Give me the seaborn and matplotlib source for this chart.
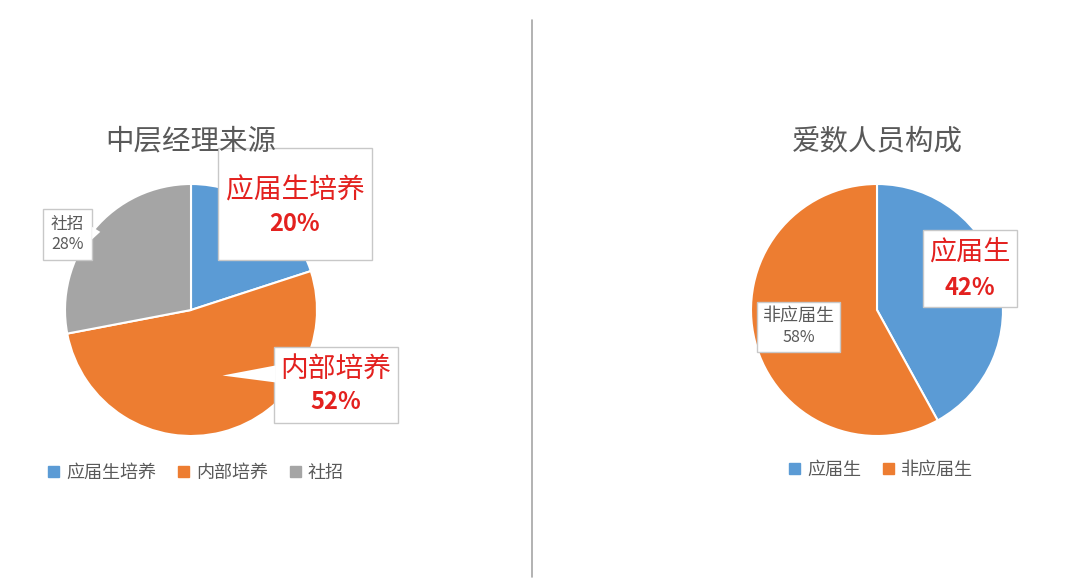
import matplotlib.pyplot as plt
import numpy as np
import seaborn as sns
from matplotlib.patches import Rectangle, Polygon, Patch

# data
left_title = "中层经理来源"
left_labels = ["应届生培养", "内部培养", "社招"]
left_values = [20, 52, 28]

right_title = "爱数人员构成"
right_labels = ["应届生", "非应届生"]
right_values = [42, 58]

blue, orange, gray = "#5B9BD5", "#ED7D31", "#A5A5A5"
red = "#E3211F"
txt_gray = "#595959"

sns.set_theme(style="white")
plt.rcParams['font.family'] = ['Noto Sans CJK SC', 'DejaVu Sans']

fig = plt.figure(figsize=(10.8, 5.85), dpi=100)
fig.patch.set_facecolor("white")

R = 126  # pie radius in px
W, H = 1080, 585


def pie_axes(cx, cy):
    return fig.add_axes([(cx - R) / W, (H - cy - R) / H, 2 * R / W, 2 * R / H])


def draw_label(ax, name, pct, box, name_y, pct_y, size_name, size_pct, color, bold):
    cx, cy, w, h = box
    ax.add_patch(Rectangle((cx - w / 2, cy - h / 2), w, h, fc="white", ec="#C8C8C8",
                           lw=1.0, zorder=5, clip_on=False))
    ax.text(cx, name_y, name, ha="center", va="center", fontsize=size_name,
            color=color, zorder=6, clip_on=False)
    ax.text(cx, pct_y, f"{pct}%", ha="center", va="center", fontsize=size_pct,
            color=color, fontweight="bold" if bold else "normal", zorder=6, clip_on=False)


# ---- left pie
ax1 = pie_axes(191, 310)
w1, _ = ax1.pie(left_values, colors=[blue, orange, gray], startangle=90, counterclock=False,
                wedgeprops=dict(edgecolor="white", linewidth=1.5))
ax1.set_xlim(-1, 1)
ax1.set_ylim(-1, 1)
ax1.set_aspect("equal")
ax1.axis("off")

draw_label(ax1, left_labels[0], left_values[0], (0.825, 0.84, 1.22, 0.89), 0.95, 0.68,
           20, 17, red, True)
ax1.add_patch(Polygon([(0.672, -0.44), (0.672, -0.575), (0.25, -0.52)], closed=True,
                      fc="white", ec="none", zorder=7, clip_on=False))
draw_label(ax1, left_labels[1], left_values[1], (1.15, -0.595, 0.98, 0.60), -0.47, -0.73,
           20, 17, red, True)
ax1.add_patch(Polygon([(-0.785, 0.56), (-0.785, 0.66), (-0.72, 0.62)], closed=True,
                      fc="white", ec="none", zorder=7, clip_on=False))
draw_label(ax1, left_labels[2], left_values[2], (-0.98, 0.60, 0.39, 0.41), 0.68, 0.52,
           12, 11.5, txt_gray, False)

fig.text(191 / W, 1 - 141 / H, left_title, ha="center", va="center", fontsize=20.5, color=txt_gray)
fig.legend(handles=[Patch(color=c) for c in [blue, orange, gray]], labels=left_labels,
           loc="center", bbox_to_anchor=(196 / W, 1 - 473 / H), ncol=3, frameon=False,
           fontsize=13, handlelength=0.6, handleheight=0.6, handletextpad=0.4,
           columnspacing=1.2, labelcolor=txt_gray)

# ---- right pie
ax2 = pie_axes(877, 310)
w2, _ = ax2.pie(right_values, colors=[blue, orange], startangle=90, counterclock=False,
                wedgeprops=dict(edgecolor="white", linewidth=1.5))
ax2.set_xlim(-1, 1)
ax2.set_ylim(-1, 1)
ax2.set_aspect("equal")
ax2.axis("off")

draw_label(ax2, right_labels[0], right_values[0], (0.738, 0.33, 0.75, 0.61), 0.46, 0.175,
           19.5, 17, red, True)
draw_label(ax2, right_labels[1], right_values[1], (-0.623, -0.135, 0.66, 0.40), -0.05, -0.215,
           13, 11.5, txt_gray, False)

fig.text(877 / W, 1 - 141 / H, right_title, ha="center", va="center", fontsize=20.5, color=txt_gray)
fig.legend(handles=[Patch(color=c) for c in [blue, orange]], labels=right_labels,
           loc="center", bbox_to_anchor=(881 / W, 1 - 470 / H), ncol=2, frameon=False,
           fontsize=13, handlelength=0.6, handleheight=0.6, handletextpad=0.4,
           columnspacing=1.2, labelcolor=txt_gray)

# divider
fig.add_artist(plt.Line2D([532 / W, 532 / W], [1 - 20 / H, 1 - 577 / H], color="#A6A6A6", lw=1.2))

fig.savefig("out.png", dpi=100, facecolor="white")
